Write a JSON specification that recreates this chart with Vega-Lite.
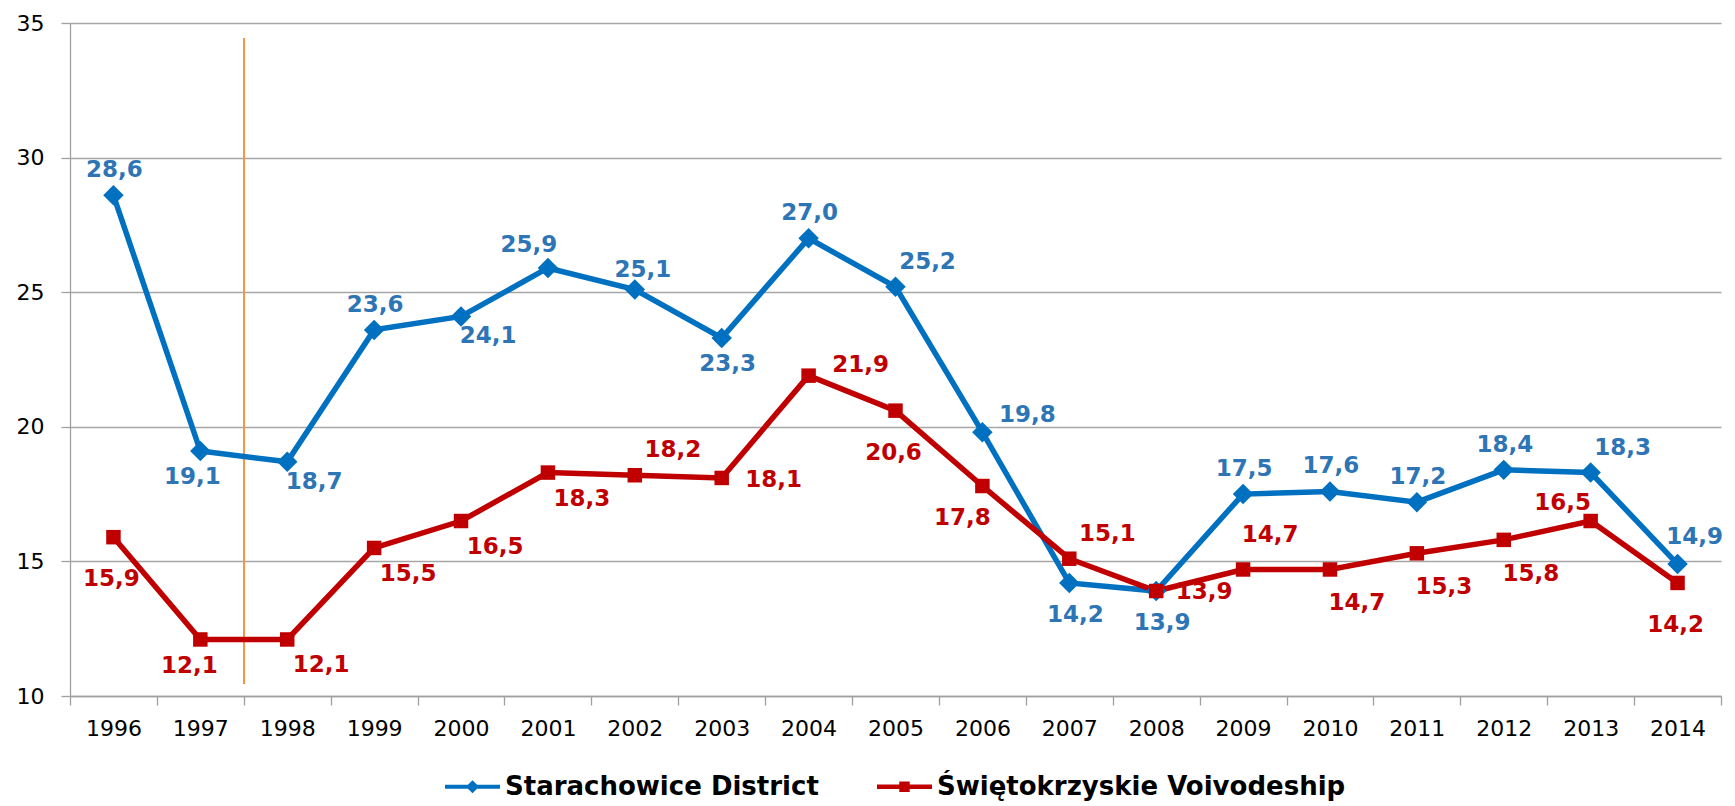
{
  "$schema": "https://vega.github.io/schema/vega-lite/v6.json",
  "width": 1651,
  "height": 673,
  "autosize": {"type": "none"},
  "padding": {"left": 70, "top": 23, "right": 14, "bottom": 110},
  "background": "white",
  "config": {
    "view": {"stroke": null},
    "font": "DejaVu Sans",
    "legend": {"layout": {"bottom": {"anchor": "middle"}}},
    "locale": {"number": {"decimal": ",", "thousands": " ", "grouping": [3], "currency": ["", " zł"]}}
  },
  "data": {"values": [
    {"year": 1996, "series": "Starachowice District", "value": 28.6},
    {"year": 1997, "series": "Starachowice District", "value": 19.1},
    {"year": 1998, "series": "Starachowice District", "value": 18.7},
    {"year": 1999, "series": "Starachowice District", "value": 23.6},
    {"year": 2000, "series": "Starachowice District", "value": 24.1},
    {"year": 2001, "series": "Starachowice District", "value": 25.9},
    {"year": 2002, "series": "Starachowice District", "value": 25.1},
    {"year": 2003, "series": "Starachowice District", "value": 23.3},
    {"year": 2004, "series": "Starachowice District", "value": 27.0},
    {"year": 2005, "series": "Starachowice District", "value": 25.2},
    {"year": 2006, "series": "Starachowice District", "value": 19.8},
    {"year": 2007, "series": "Starachowice District", "value": 14.2},
    {"year": 2008, "series": "Starachowice District", "value": 13.9},
    {"year": 2009, "series": "Starachowice District", "value": 17.5},
    {"year": 2010, "series": "Starachowice District", "value": 17.6},
    {"year": 2011, "series": "Starachowice District", "value": 17.2},
    {"year": 2012, "series": "Starachowice District", "value": 18.4},
    {"year": 2013, "series": "Starachowice District", "value": 18.3},
    {"year": 2014, "series": "Starachowice District", "value": 14.9},
    {"year": 1996, "series": "Świętokrzyskie Voivodeship", "value": 15.9},
    {"year": 1997, "series": "Świętokrzyskie Voivodeship", "value": 12.1},
    {"year": 1998, "series": "Świętokrzyskie Voivodeship", "value": 12.1},
    {"year": 1999, "series": "Świętokrzyskie Voivodeship", "value": 15.5},
    {"year": 2000, "series": "Świętokrzyskie Voivodeship", "value": 16.5},
    {"year": 2001, "series": "Świętokrzyskie Voivodeship", "value": 18.3},
    {"year": 2002, "series": "Świętokrzyskie Voivodeship", "value": 18.2},
    {"year": 2003, "series": "Świętokrzyskie Voivodeship", "value": 18.1},
    {"year": 2004, "series": "Świętokrzyskie Voivodeship", "value": 21.9},
    {"year": 2005, "series": "Świętokrzyskie Voivodeship", "value": 20.6},
    {"year": 2006, "series": "Świętokrzyskie Voivodeship", "value": 17.8},
    {"year": 2007, "series": "Świętokrzyskie Voivodeship", "value": 15.1},
    {"year": 2008, "series": "Świętokrzyskie Voivodeship", "value": 13.9},
    {"year": 2009, "series": "Świętokrzyskie Voivodeship", "value": 14.7},
    {"year": 2010, "series": "Świętokrzyskie Voivodeship", "value": 14.7},
    {"year": 2011, "series": "Świętokrzyskie Voivodeship", "value": 15.3},
    {"year": 2012, "series": "Świętokrzyskie Voivodeship", "value": 15.8},
    {"year": 2013, "series": "Świętokrzyskie Voivodeship", "value": 16.5},
    {"year": 2014, "series": "Świętokrzyskie Voivodeship", "value": 14.2}
  ]},
  "encoding": {
    "x": {
      "field": "year", "type": "ordinal",
      "scale": {"type": "band", "paddingInner": 0, "paddingOuter": 0},
      "axis": {
        "title": null, "labelAngle": 0, "tickBand": "extent", "tickSize": 9,
        "tickColor": "#A0A0A0", "domainColor": "#A0A0A0", "domainWidth": 1.3, "tickWidth": 1.3,
        "labelFontSize": 22, "labelColor": "#000000", "labelPadding": 13, "grid": false
      }
    },
    "y": {
      "field": "value", "type": "quantitative",
      "scale": {"domain": [10, 35], "nice": false, "zero": false},
      "axis": {
        "title": null, "values": [10, 15, 20, 25, 30, 35], "tickSize": 9,
        "tickColor": "#A0A0A0", "domainColor": "#A0A0A0", "domainWidth": 1.3, "tickWidth": 1.3,
        "gridColor": "#A6A6A6", "gridWidth": 1.3,
        "labelFontSize": 22, "labelColor": "#000000", "labelPadding": 17
      }
    }
  },
  "layer": [
    {
      "mark": {"type": "rule", "color": "#F79646", "strokeWidth": 1.5},
      "encoding": {
        "x": {"datum": 1998, "type": "ordinal", "bandPosition": 0},
        "y": {"datum": 10.45},
        "y2": {"datum": 34.42}
      }
    },
    {
      "mark": {"type": "line", "strokeWidth": 5.5},
      "encoding": {
        "color": {
          "field": "series", "type": "nominal",
          "scale": {"domain": ["Starachowice District", "Świętokrzyskie Voivodeship"], "range": ["#0070C0", "#C00000"]},
          "legend": {
            "title": null, "orient": "bottom", "direction": "horizontal",
            "symbolSize": 3025, "labelFontSize": 26, "labelFontWeight": "bold", "labelColor": "#000000",
            "labelOffset": 5, "columnPadding": 58, "offset": 20, "labelLimit": 600,
            "encode": {
              "symbols": {"update": {
                "shape": {"signal": "datum.value === 'Starachowice District' ? 'M-1,-0.07L1,-0.07L1,0.07L-1,0.07Z M-0.24,0L0,-0.24L0.24,0L0,0.24Z' : 'M-1,-0.08L1,-0.08L1,0.08L-1,0.08Z M-0.19,-0.19L0.19,-0.19L0.19,0.19L-0.19,0.19Z'"},
                "fill": {"signal": "datum.value === 'Starachowice District' ? '#0070C0' : '#C00000'"},
                "stroke": {"value": "transparent"},
                "strokeWidth": {"value": 0},
                "size": {"value": 3025},
                "opacity": {"value": 1}
              }}
            }
          }
        }
      }
    },
    {
      "transform": [{"filter": {"field": "series", "equal": "Starachowice District"}}],
      "mark": {"type": "point", "shape": "diamond", "filled": true, "size": 420, "color": "#0070C0", "opacity": 1}
    },
    {
      "transform": [{"filter": {"field": "series", "equal": "Świętokrzyskie Voivodeship"}}],
      "mark": {"type": "point", "shape": "square", "filled": true, "size": 210, "color": "#C00000", "opacity": 1}
    },
    {
      "encoding": {"text": {"field": "value", "type": "quantitative", "format": ".1f"}},
      "layer": [
        {"transform": [{"filter": {"and": [{"field": "series", "equal": "Starachowice District"}, {"field": "year", "oneOf": [1996, 1999, 2004, 2009, 2010, 2011, 2012]}]}}],
         "mark": {"type": "text", "fontSize": 23, "fontWeight": "bold", "color": "#2E75B6", "baseline": "middle", "dx": 1, "dy": -25}},
        {"transform": [{"filter": {"and": [{"field": "series", "equal": "Starachowice District"}, {"field": "year", "oneOf": [2002]}]}}],
         "mark": {"type": "text", "fontSize": 23, "fontWeight": "bold", "color": "#2E75B6", "baseline": "middle", "dx": 8, "dy": -20}},
        {"transform": [{"filter": {"and": [{"field": "series", "equal": "Starachowice District"}, {"field": "year", "oneOf": [2001]}]}}],
         "mark": {"type": "text", "fontSize": 23, "fontWeight": "bold", "color": "#2E75B6", "baseline": "middle", "dx": -19, "dy": -23}},
        {"transform": [{"filter": {"and": [{"field": "series", "equal": "Starachowice District"}, {"field": "year", "oneOf": [1997]}]}}],
         "mark": {"type": "text", "fontSize": 23, "fontWeight": "bold", "color": "#2E75B6", "baseline": "middle", "dx": -8, "dy": 26}},
        {"transform": [{"filter": {"and": [{"field": "series", "equal": "Starachowice District"}, {"field": "year", "oneOf": [2003]}]}}],
         "mark": {"type": "text", "fontSize": 23, "fontWeight": "bold", "color": "#2E75B6", "baseline": "middle", "dx": 6, "dy": 26}},
        {"transform": [{"filter": {"and": [{"field": "series", "equal": "Starachowice District"}, {"field": "year", "oneOf": [2007, 2008]}]}}],
         "mark": {"type": "text", "fontSize": 23, "fontWeight": "bold", "color": "#2E75B6", "baseline": "middle", "dx": 6, "dy": 32}},
        {"transform": [{"filter": {"and": [{"field": "series", "equal": "Starachowice District"}, {"field": "year", "oneOf": [1998, 2000]}]}}],
         "mark": {"type": "text", "fontSize": 23, "fontWeight": "bold", "color": "#2E75B6", "baseline": "middle", "dx": 27, "dy": 20}},
        {"transform": [{"filter": {"and": [{"field": "series", "equal": "Starachowice District"}, {"field": "year", "oneOf": [2005, 2013]}]}}],
         "mark": {"type": "text", "fontSize": 23, "fontWeight": "bold", "color": "#2E75B6", "baseline": "middle", "dx": 32, "dy": -25}},
        {"transform": [{"filter": {"and": [{"field": "series", "equal": "Starachowice District"}, {"field": "year", "oneOf": [2014]}]}}],
         "mark": {"type": "text", "fontSize": 23, "fontWeight": "bold", "color": "#2E75B6", "baseline": "middle", "dx": 17, "dy": -27}},
        {"transform": [{"filter": {"and": [{"field": "series", "equal": "Starachowice District"}, {"field": "year", "oneOf": [2006]}]}}],
         "mark": {"type": "text", "fontSize": 23, "fontWeight": "bold", "color": "#2E75B6", "baseline": "middle", "dx": 45, "dy": -17}},
        {"transform": [{"filter": {"and": [{"field": "series", "equal": "Świętokrzyskie Voivodeship"}, {"field": "year", "oneOf": [1996, 2005, 2014]}]}}],
         "mark": {"type": "text", "fontSize": 23, "fontWeight": "bold", "color": "#C00000", "baseline": "middle", "dx": -2, "dy": 42}},
        {"transform": [{"filter": {"and": [{"field": "series", "equal": "Świętokrzyskie Voivodeship"}, {"field": "year", "oneOf": [1997]}]}}],
         "mark": {"type": "text", "fontSize": 23, "fontWeight": "bold", "color": "#C00000", "baseline": "middle", "dx": -11, "dy": 27}},
        {"transform": [{"filter": {"and": [{"field": "series", "equal": "Świętokrzyskie Voivodeship"}, {"field": "year", "oneOf": [1998, 1999, 2000, 2001]}]}}],
         "mark": {"type": "text", "fontSize": 23, "fontWeight": "bold", "color": "#C00000", "baseline": "middle", "dx": 34, "dy": 26}},
        {"transform": [{"filter": {"and": [{"field": "series", "equal": "Świętokrzyskie Voivodeship"}, {"field": "year", "oneOf": [2010, 2011, 2012]}]}}],
         "mark": {"type": "text", "fontSize": 23, "fontWeight": "bold", "color": "#C00000", "baseline": "middle", "dx": 27, "dy": 34}},
        {"transform": [{"filter": {"and": [{"field": "series", "equal": "Świętokrzyskie Voivodeship"}, {"field": "year", "oneOf": [2002, 2007]}]}}],
         "mark": {"type": "text", "fontSize": 23, "fontWeight": "bold", "color": "#C00000", "baseline": "middle", "dx": 38, "dy": -25}},
        {"transform": [{"filter": {"and": [{"field": "series", "equal": "Świętokrzyskie Voivodeship"}, {"field": "year", "oneOf": [2009]}]}}],
         "mark": {"type": "text", "fontSize": 23, "fontWeight": "bold", "color": "#C00000", "baseline": "middle", "dx": 27, "dy": -34}},
        {"transform": [{"filter": {"and": [{"field": "series", "equal": "Świętokrzyskie Voivodeship"}, {"field": "year", "oneOf": [2003]}]}}],
         "mark": {"type": "text", "fontSize": 23, "fontWeight": "bold", "color": "#C00000", "baseline": "middle", "dx": 52, "dy": 2}},
        {"transform": [{"filter": {"and": [{"field": "series", "equal": "Świętokrzyskie Voivodeship"}, {"field": "year", "oneOf": [2004]}]}}],
         "mark": {"type": "text", "fontSize": 23, "fontWeight": "bold", "color": "#C00000", "baseline": "middle", "dx": 52, "dy": -11}},
        {"transform": [{"filter": {"and": [{"field": "series", "equal": "Świętokrzyskie Voivodeship"}, {"field": "year", "oneOf": [2008]}]}}],
         "mark": {"type": "text", "fontSize": 23, "fontWeight": "bold", "color": "#C00000", "baseline": "middle", "dx": 48, "dy": 1}},
        {"transform": [{"filter": {"and": [{"field": "series", "equal": "Świętokrzyskie Voivodeship"}, {"field": "year", "oneOf": [2006]}]}}],
         "mark": {"type": "text", "fontSize": 23, "fontWeight": "bold", "color": "#C00000", "baseline": "middle", "dx": -20, "dy": 32}},
        {"transform": [{"filter": {"and": [{"field": "series", "equal": "Świętokrzyskie Voivodeship"}, {"field": "year", "oneOf": [2013]}]}}],
         "mark": {"type": "text", "fontSize": 23, "fontWeight": "bold", "color": "#C00000", "baseline": "middle", "dx": -28, "dy": -18}}
      ]
    }
  ]
}
